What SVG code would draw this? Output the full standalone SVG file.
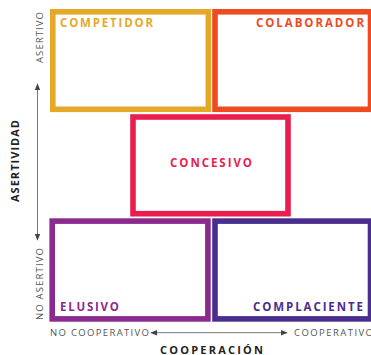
<svg xmlns="http://www.w3.org/2000/svg" width="371" height="355" viewBox="0 0 371 355">
<style>
.box{fill:none;stroke-width:5.6}
.lbl{font-family:"Open Sans","Liberation Sans",sans-serif;font-weight:bold;font-size:11.5px}
.ax{font-family:"Open Sans","Liberation Sans",sans-serif;font-size:9.5px;fill:#555}
.axt{font-family:"Open Sans","Liberation Sans",sans-serif;font-weight:bold;font-size:11px;fill:#222}
.arr{stroke:#777;stroke-width:1;fill:none}
</style>
<defs>
<marker id="ah" viewBox="0 0 10 10" refX="9" refY="5" markerWidth="7" markerHeight="7" orient="auto-start-reverse" markerUnits="userSpaceOnUse">
<path d="M0,1 L10,5 L0,9 Z" fill="#444"/>
</marker>
</defs>
<rect width="371" height="355" fill="#fff"/>
<g id="competidor">
<rect class="box" x="52.8" y="11.8" width="155.5" height="97.5" stroke="#E5A92A"/>
<text class="lbl" x="60" y="26.7" fill="#E5A92A" textLength="93" lengthAdjust="spacing">COMPETIDOR</text>
</g>
<g id="colaborador">
<rect class="box" x="215" y="11.8" width="155.5" height="97.5" stroke="#EE4B23"/>
<text class="lbl" x="256" y="26.7" fill="#EE4B23" textLength="108" lengthAdjust="spacing">COLABORADOR</text>
</g>
<g id="concesivo">
<rect class="box" x="133" y="117" width="155" height="96.7" stroke="#E91E4E"/>
<text class="lbl" x="170" y="167.3" fill="#E91E4E" textLength="82" lengthAdjust="spacing">CONCESIVO</text>
</g>
<g id="elusivo">
<rect class="box" x="52.2" y="221.1" width="155.7" height="97.8" stroke="#8B2A8E"/>
<text class="lbl" x="60" y="310.7" fill="#8B2A8E" textLength="59" lengthAdjust="spacing">ELUSIVO</text>
</g>
<g id="complaciente">
<rect class="box" x="215" y="221.1" width="155.5" height="97.8" stroke="#4A2E8E"/>
<text class="lbl" x="253" y="310.7" fill="#4A2E8E" textLength="110" lengthAdjust="spacing">COMPLACIENTE</text>
</g>
<g id="connectors">
<line class="arr" x1="37.5" y1="84" x2="37.5" y2="240" marker-start="url(#ah)" marker-end="url(#ah)"/>
<line class="arr" x1="151" y1="332.7" x2="287" y2="332.7" marker-start="url(#ah)" marker-end="url(#ah)"/>
</g>
<g id="axis-labels">
<text class="ax" transform="translate(42.5,63) rotate(-90)" textLength="51" lengthAdjust="spacing">ASERTIVO</text>
<text class="ax" transform="translate(42.5,320) rotate(-90)" textLength="72" lengthAdjust="spacing">NO ASERTIVO</text>
<text class="axt" transform="translate(19,202) rotate(-90)" textLength="82" lengthAdjust="spacing">ASERTIVIDAD</text>
<text class="ax" x="50" y="336" textLength="99" lengthAdjust="spacing">NO COOPERATIVO</text>
<text class="ax" x="294" y="336" textLength="79" lengthAdjust="spacing">COOPERATIVO</text>
<text class="axt" x="160" y="353.5" textLength="103" lengthAdjust="spacing">COOPERACIÓN</text>
</g>
</svg>
